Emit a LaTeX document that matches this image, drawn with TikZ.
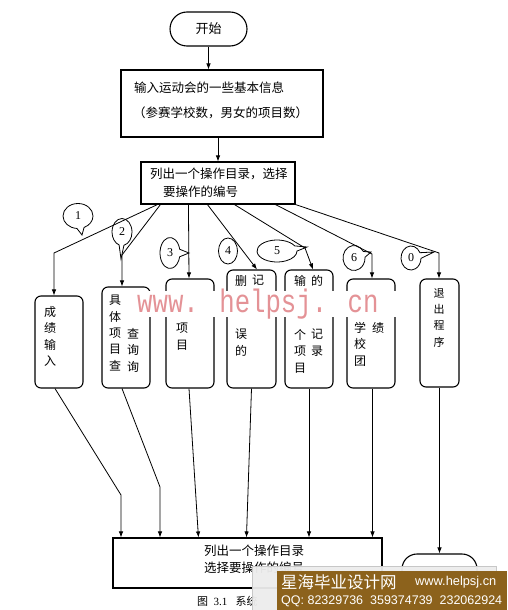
\documentclass[tikz,border=0pt]{standalone}
\usepackage{fontspec}
\setmainfont{Liberation Serif}
\newfontfamily\cjk{Noto Sans CJK SC}
\newfontfamily\wmfont{Liberation Mono}
\newfontfamily\sansf{Liberation Sans}
\usetikzlibrary{arrows.meta,shapes.geometric,shapes.callouts}
\definecolor{wmpink}{RGB}{228,146,150}
\definecolor{banbrown}{RGB}{140,98,28}
\begin{document}
\begin{tikzpicture}[x=1pt,y=-1pt,
  arr/.style={-{Latex[length=6pt,width=4.5pt]}, line width=0.8pt},
  sqbox/.style={draw, line width=1.1pt, inner sep=0},
  obox/.style={draw, line width=1.1pt, rounded corners=6pt, inner sep=0},
  txt/.style={font=\cjk\fontsize{12.5}{15}\selectfont, inner sep=0, anchor=west},
  col/.style={font=\cjk\fontsize{12}{16.4}\selectfont, align=center, inner sep=0, anchor=north},
  call/.style={ellipse callout, draw, fill=white, line width=0.8pt, inner sep=0,
    callout pointer arc=28, font=\fontsize{12}{12}\selectfont},
]
\useasboundingbox (0,0) rectangle (507,610);
\fill[white] (0,0) rectangle (507,610);

% main flow
\node[draw, line width=1.1pt, rounded corners=17pt, minimum width=77, minimum height=34, inner sep=0,
  font=\cjk\fontsize{13}{13}\selectfont] (start) at (208.5,29) {开始};
\node[sqbox, minimum width=202, minimum height=67] (info) at (222,103.5) {};
\node[txt] (infoA) at (134,88) {输入运动会的一些基本信息};
\node[txt] (infoB) at (133,113) {（参赛学校数，男女的项目数）};
\node[sqbox, minimum width=154, minimum height=42] (menu) at (218,183) {};
\node[txt] (menuA) at (150,174) {列出一个操作目录，选择};
\node[txt] (menuB) at (163,192) {要操作的编号};

\draw[arr] (start.south) -- (start.south |- info.north);
\draw[arr] (menu.north |- info.south) -- (menu.north);

% option boxes
\node[obox, minimum width=48, minimum height=92]  (b1) at (59,342) {};
\node[obox, minimum width=48, minimum height=101] (b2) at (126,337.5) {};
\node[obox, minimum width=48, minimum height=109] (b3) at (190,333.5) {};
\node[obox, minimum width=49, minimum height=118] (b4) at (251.5,329) {};
\node[obox, minimum width=48, minimum height=118] (b5) at (309,329) {};
\node[obox, minimum width=48, minimum height=109] (b6) at (371,333.5) {};
\node[obox, minimum width=39, minimum height=108] (b0) at (439.5,333) {};

% bend points
\coordinate (k1) at (54,253);
\coordinate (k2) at (122,255);
\coordinate (k5) at (305,248);
\coordinate (k6) at (372,254);
\coordinate (k0) at (439,253);

% callouts
\node[call, minimum width=30, minimum height=25, callout absolute pointer={(82,235)}] (c1) at (78,216) {1};
\node[call, minimum width=20, minimum height=27, callout absolute pointer={(121,259)}] (c2) at (122,232) {2};
\node[call, minimum width=20, minimum height=31, callout absolute pointer={(189,253)}] (c3) at (170,253) {3};
\node[ellipse, draw, fill=white, line width=0.8pt, inner sep=0, minimum width=19, minimum height=26,
  font=\fontsize{12}{12}\selectfont] (c4) at (228,251) {4};
\node[call, minimum width=40, minimum height=22, callout absolute pointer={(307,247)}] (c5) at (277,251) {5};
\node[call, minimum width=22, minimum height=25, callout absolute pointer={(371,252)}] (c6) at (354,258) {6};
\node[call, minimum width=20, minimum height=24, callout absolute pointer={(434,252)}] (c0) at (411,258) {0};

% connectors from menu
\draw[arr] ([xshift=17pt]menu.south west) -- (k1) -- (k1 |- b1.north);
\draw[arr] ([xshift=20pt]menu.south west) -- (k2) -- (k2 |- b2.north);
\draw[arr] ([xshift=48pt]menu.south west) -- ([xshift=-1pt]b3.north);
\draw[arr] ([xshift=67pt]menu.south west) -- ([xshift=5.5pt]b4.north);
\draw[arr] ([xshift=94pt]menu.south west) -- (k5) -- ([xshift=4pt]b5.north);
\draw[arr] ([xshift=135pt]menu.south west) -- (k6) -- (k6 |- b6.north);
\draw[arr] (menu.south east) -- (k0) -- (k0 |- b0.north);

% box texts
\node[col] (t1) at (50,306) {成\\绩\\输\\入};
\node[col] (t2a) at (115,295) {具\\体\\项\\目\\查};
\node[col] (t2b) at (133,328) {查\\询\\询};
\node[col] (t3) at (182,323) {项\\目};
\node[col] (t4a) at (241,275) {删};
\node[col] (t4c) at (241,329) {误\\的};
\node[col] (t4b) at (258,275) {记};
\node[col] (t5a) at (300,275) {输};
\node[col] (t5c) at (300,329) {个\\项\\目};
\node[col] (t5b) at (317,275) {的};
\node[col] (t5d) at (317,329) {记\\录};
\node[col] (t6a) at (360,322) {学\\校\\团};
\node[col] (t6b) at (378,322) {绩};
\node[col, font=\cjk\fontsize{11}{16.4}\selectfont] (t0) at (439,288) {退\\出\\程\\序};

% bottom box and connectors
\node[sqbox, minimum width=269, minimum height=50] (bot) at (247.5,563) {};
\node[txt] (botA) at (204,551) {列出一个操作目录};
\node[txt] (botB) at (204,568) {选择要操作的编号};
\coordinate (m1) at (121,495);
\coordinate (m2) at (160,487);
\draw[arr] ([xshift=-4pt]b1.south) -- (m1) -- (m1 |- bot.north);
\draw[arr] ([xshift=-4pt]b2.south) -- (m2) -- (m2 |- bot.north);
\draw[arr] ([xshift=-1pt]b3.south) -- ([xshift=86pt]bot.north west);
\draw[arr] (b4.south) -- ([xshift=134pt]bot.north west);
\draw[arr] (b5.south) -- (b5.south |- bot.north);
\draw[arr] ([xshift=1.5pt]b6.south) -- ([xshift=1.5pt]b6.south |- bot.north);

% end terminal
\node[draw, line width=1.1pt, rounded corners=15pt, minimum width=75, minimum height=44, inner sep=0] (endT) at (439.5,576) {};
\draw[arr] (b0.south) -- (endT.north);

% caption (only the part left uncovered by the banner)
\node[anchor=west, inner sep=0, font=\fontsize{11}{11}\selectfont] (cap) at (197,601)
  {{\cjk 图}\ \ 3.1\ \ \ {\cjk 系统}};

% watermark
\fill[white] (137,291) rectangle (400,317);
\node[anchor=base west, inner sep=0, text=wmpink] (wm) at (137,312)
  {\scalebox{0.79}[1]{\wmfont\fontsize{32.5}{32.5}\selectfont www. helpsj. cn}};

% banner
\fill[gray!14, draw=gray!45, opacity=0.95] (252,566) rectangle (496,612);
\fill[banbrown] (277,571) rectangle (507,610);
\node[anchor=west, inner sep=0, text=white, font=\cjk\fontsize{16.5}{16.5}\selectfont] (bn1) at (281,582) {星海毕业设计网};
\node[anchor=west, inner sep=0, text=white, font=\sansf\fontsize{12.8}{12.8}\selectfont] (bn2) at (415,582) {www.helpsj.cn};
\node[anchor=west, inner sep=0, text=white, font=\sansf\fontsize{12.5}{12.5}\selectfont] (bn3) at (281,601) {QQ: 82329736\ \ 359374739\ \ 232062924};
\end{tikzpicture}
\end{document}
